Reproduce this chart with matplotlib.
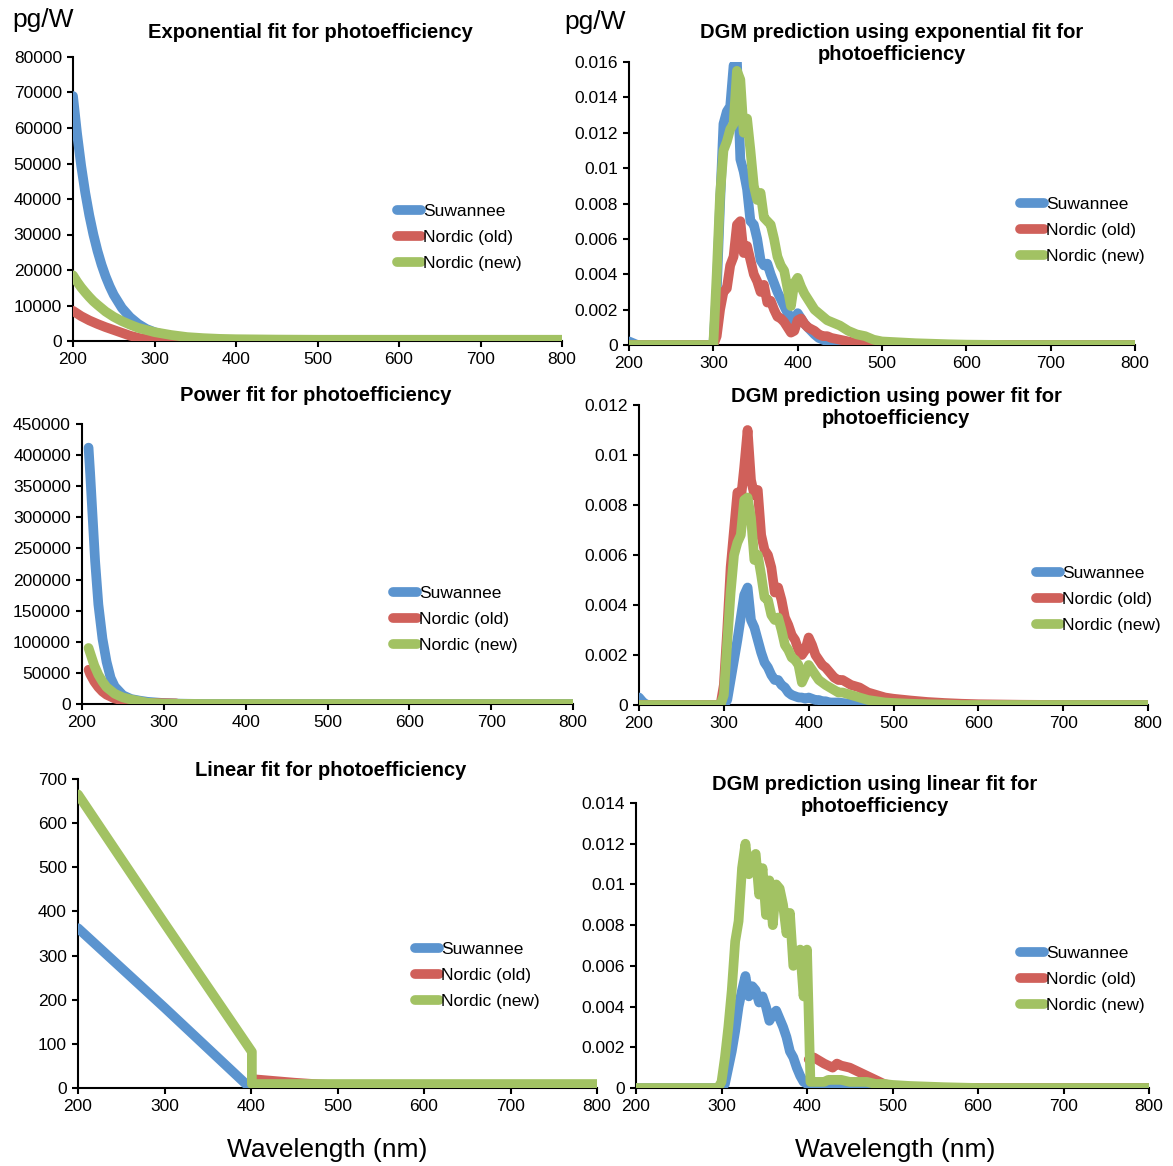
import matplotlib.pyplot as plt
from matplotlib.ticker import FuncFormatter

plt.rcParams['font.family'] = ['Liberation Sans', 'DejaVu Sans']

W, H = 1173, 1166
names = ['Suwannee', 'Nordic (old)', 'Nordic (new)']
colors = ['#5b94cf', '#d0605a', '#a2c263']
wl_ticks = [200, 300, 400, 500, 600, 700, 800]

# --- exponential fit (pg/W) ---
wl_exp_suw = [200, 205, 210, 215, 220, 225, 230, 235, 240, 245, 250, 260, 270, 280, 290,
              300, 310, 320, 330, 340, 360, 380, 400, 450, 500, 800]
exp_suw = [69000, 58400, 49400, 41800, 35400, 30000, 25400, 21500, 18200, 15400, 13000,
           9300, 6700, 4800, 3400, 2500, 1800, 1300, 900, 650, 400, 300, 250, 200, 200, 200]
wl_exp_old = [200, 210, 220, 230, 240, 250, 260, 270, 280, 290, 300, 320, 350, 800]
exp_old = [8500, 7000, 5800, 4800, 3900, 3100, 2300, 1500, 900, 500, 250, 80, 0, 0]
wl_exp_new = [200, 205, 210, 215, 220, 225, 230, 240, 250, 260, 270, 280, 290, 300,
              320, 340, 360, 380, 400, 450, 500, 800]
exp_new = [18500, 16700, 15100, 13700, 12400, 11200, 10200, 8300, 6800, 5600, 4600, 3700,
           3100, 2500, 1700, 1100, 800, 600, 500, 400, 350, 350]

# --- power fit (pg/W) ---
wl_pow_suw = [208, 210, 213, 216, 220, 225, 230, 235, 240, 250, 260, 270, 280, 300, 320, 350, 800]
pow_suw = [412000, 370000, 300000, 230000, 160000, 105000, 68000, 42000, 28000, 14000,
           8000, 5500, 3500, 1500, 500, 0, 0]
wl_pow_old = [208, 210, 215, 220, 225, 230, 240, 250, 260, 280, 300, 315]
pow_old = [55000, 48000, 36000, 27000, 20000, 15000, 8800, 5500, 3600, 1800, 1300, 1000]
wl_pow_new = [208, 210, 215, 220, 225, 230, 240, 250, 260, 280, 300, 350, 800]
pow_new = [90000, 82000, 62000, 47000, 36000, 27000, 16500, 10500, 7200, 2000, 500, 0, 0]

# --- linear fit (pg/W) ---
wl_lin_suw = [200, 300, 399, 800]
lin_suw = [362, 182, 0, 0]
wl_lin_old = [402, 420, 450, 480, 500, 530, 560, 600, 800]
lin_old = [20, 17, 12, 8, 6, 3, 1, 0, 0]
wl_lin_new = [200, 300, 401, 401, 800]
lin_new = [665, 373, 82, 9, 9]

# --- DGM predictions, common wavelength grid (nm) ---
wl_dgm = [200, 205, 210, 250, 296,
          300, 304, 308, 312, 316, 320, 324, 328, 332, 336, 340, 344, 348, 352, 356, 360,
          364, 368, 372, 376, 380, 384, 388, 392, 396, 400, 404, 408, 412, 416, 420,
          425, 430, 435, 440, 450, 460, 470, 480, 490, 500,
          520, 540, 560, 580, 600, 650, 700, 800]

dgm_exp_suw = [0.0002, 0.0001, 0, 0, 0,
               0, 0.003, 0.008, 0.0125, 0.0132, 0.0135, 0.0158, 0.016, 0.0105, 0.0098, 0.0088,
               0.007, 0.0068, 0.006, 0.0048, 0.0045, 0.0046, 0.004, 0.0035, 0.003, 0.0026,
               0.0022, 0.0018, 0.0016, 0.0013, 0.0018, 0.0015, 0.0012, 0.001, 0.0008, 0.0006,
               0.0004, 0.0003, 0.0002, 0.0001, 0, 0, 0, 0, 0, 0,
               0, 0, 0, 0, 0, 0, 0, 0]
dgm_exp_old = [0, 0, 0, 0, 0,
               0, 0.0005, 0.002, 0.003, 0.0032, 0.0045, 0.005, 0.0068, 0.007, 0.0052, 0.0056,
               0.0048, 0.004, 0.0036, 0.003, 0.0034, 0.0024, 0.0025, 0.002, 0.0016, 0.0015,
               0.0013, 0.001, 0.0007, 0.0008, 0.0014, 0.0015, 0.0012, 0.001, 0.0009, 0.0008,
               0.0006, 0.0005, 0.0005, 0.0004, 0.0003, 0.0002, 0.0001, 0.00005, 0, 0,
               0, 0, 0, 0, 0, 0, 0, 0]
dgm_exp_new = [0, 0, 0, 0, 0,
               0, 0.004, 0.0085, 0.011, 0.0115, 0.0122, 0.0125, 0.0155, 0.015, 0.012, 0.0128,
               0.011, 0.009, 0.0082, 0.0086, 0.0072, 0.007, 0.0068, 0.006, 0.005, 0.0045,
               0.0042, 0.0032, 0.0022, 0.0035, 0.0038, 0.0033, 0.0029, 0.0026, 0.0023, 0.002,
               0.0018, 0.0016, 0.0014, 0.0013, 0.0011, 0.0008, 0.0006, 0.0005, 0.0003, 0.0002,
               0.00015, 0.0001, 0.00007, 0.00004, 0.00002, 0, 0, 0]

dgm_pow_suw = [0.0003, 0.0001, 0, 0, 0,
               0, 0.0002, 0.001, 0.0018, 0.0026, 0.0035, 0.0044, 0.0047, 0.0034, 0.0031, 0.0026,
               0.0021, 0.0017, 0.0015, 0.0012, 0.001, 0.001, 0.0008, 0.0007, 0.0005, 0.0004,
               0.00035, 0.0003, 0.0003, 0.00025, 0.0003, 0.00025, 0.0002, 0.0002, 0.00015, 0.00015,
               0.0001, 0.0001, 0.0001, 0.00008, 0.00005, 0.00003, 0, 0, 0, 0,
               0, 0, 0, 0, 0, 0, 0, 0]
dgm_pow_old = [0, 0, 0, 0, 0,
               0.0008, 0.003, 0.0055, 0.007, 0.0085, 0.0082, 0.0095, 0.011, 0.009, 0.0084, 0.0086,
               0.0068, 0.0062, 0.006, 0.0055, 0.0045, 0.0047, 0.0042, 0.0035, 0.0032, 0.0028,
               0.0026, 0.0022, 0.002, 0.0022, 0.0027, 0.0024, 0.002, 0.0018, 0.0016, 0.0015,
               0.0013, 0.0011, 0.001, 0.001, 0.0008, 0.0007, 0.0005, 0.0004, 0.0003, 0.00025,
               0.00018, 0.00012, 0.00008, 0.00005, 0.00003, 0.00001, 0, 0]
dgm_pow_new = [0, 0, 0, 0, 0,
               0.0004, 0.0025, 0.0045, 0.006, 0.0065, 0.0068, 0.0082, 0.0083, 0.0075, 0.0058, 0.006,
               0.0052, 0.0043, 0.0042, 0.0036, 0.0034, 0.0035, 0.003, 0.0024, 0.0022, 0.0019,
               0.0018, 0.0016, 0.0009, 0.0012, 0.0016, 0.0014, 0.0012, 0.001, 0.0009, 0.0008,
               0.0007, 0.0006, 0.0005, 0.0005, 0.0004, 0.0003, 0.0002, 0.00015, 0.0001, 0.00008,
               0.00005, 0.00003, 0.00002, 0, 0, 0, 0, 0]

dgm_lin_suw = [0, 0, 0, 0, 0,
               0, 0.0002, 0.001, 0.0018, 0.0028, 0.004, 0.0048, 0.0055, 0.0045, 0.005, 0.0048,
               0.0042, 0.0045, 0.004, 0.0033, 0.0036, 0.0038, 0.0034, 0.003, 0.0025, 0.0018,
               0.0015, 0.001, 0.0006, 0.0003, 0.0002, 0.0001, 0.0001, 0.00005, 0.00005, 0.00005,
               0.00005, 0.00005, 0.00005, 0.00005, 0, 0, 0, 0, 0, 0,
               0, 0, 0, 0, 0, 0, 0, 0]
# Nordic (old) only has values from 400 nm in the linear case
wl_dgm_lin_old = [402, 404, 408, 412, 416, 420, 425, 430, 435, 440, 450, 460, 470, 480,
                  490, 500, 520, 540, 560, 600, 800]
dgm_lin_old = [0.0014, 0.0014, 0.0015, 0.0014, 0.0013, 0.0012, 0.0011, 0.001, 0.0012, 0.0011,
               0.001, 0.0008, 0.0006, 0.0004, 0.0002, 0.0001, 0.00005, 0, 0, 0, 0]
dgm_lin_new = [0, 0, 0, 0, 0,
               0.0003, 0.0015, 0.003, 0.0048, 0.0072, 0.0082, 0.0108, 0.012, 0.0105, 0.0112, 0.0115,
               0.0095, 0.0108, 0.0085, 0.0102, 0.008, 0.01, 0.0098, 0.009, 0.0076, 0.0086,
               0.006, 0.0062, 0.0068, 0.0045, 0.0068, 0.0003, 0.0003, 0.0003, 0.0003, 0.0003,
               0.0004, 0.0004, 0.0004, 0.0004, 0.0003, 0.0003, 0.0003, 0.0002, 0.0002, 0.00015,
               0.0001, 0.00007, 0.00004, 0.00002, 0, 0, 0, 0]

fig = plt.figure(figsize=(W / 100, H / 100), dpi=100)


def panel(left, right, top, bottom, ymax, ystep, series, title, tpos, legpos):
    ax = fig.add_axes([left / W, 1 - bottom / H, (right - left) / W, (bottom - top) / H])
    for (x, y), c, n in zip(series, colors, names):
        ax.plot(x, y, color=c, lw=7, label=n, zorder=3,
                solid_joinstyle='round', solid_capstyle='round')
    ax.set_xlim(200, 800)
    ax.set_ylim(0, ymax)
    ax.set_xticks(wl_ticks)
    nt = int(round(ymax / ystep))
    ax.set_yticks([i * ystep for i in range(nt + 1)])
    ax.yaxis.set_major_formatter(FuncFormatter(lambda v, p: '%g' % round(v, 6)))
    for s in ['top', 'right']:
        ax.spines[s].set_visible(False)
    for s in ['left', 'bottom']:
        ax.spines[s].set_linewidth(1.5)
        ax.spines[s].set_color('black')
    ax.tick_params(direction='out', length=4, width=1.5, labelsize=12.5, pad=4)
    ax.patch.set_alpha(0)
    fig.text(tpos[0] / W, 1 - tpos[1] / H, title, ha='center', va='center',
             fontsize=14.5, fontweight='bold', linespacing=1.2)
    ax.legend(loc='upper left', bbox_to_anchor=(legpos[0] / W, 1 - legpos[1] / H),
              bbox_transform=fig.transFigure, frameon=False, fontsize=12.5,
              handlelength=1.4, handletextpad=0.1, labelspacing=0.61,
              borderpad=0, borderaxespad=0)
    return ax


panel(73, 562, 57, 341, 80000, 10000,
      [(wl_exp_suw, exp_suw), (wl_exp_old, exp_old), (wl_exp_new, exp_new)],
      'Exponential fit for photoefficiency', (310, 32), (397, 204))
panel(629, 1135, 62, 345, 0.016, 0.002,
      [(wl_dgm, dgm_exp_suw), (wl_dgm, dgm_exp_old), (wl_dgm, dgm_exp_new)],
      'DGM prediction using exponential fit for\nphotoefficiency', (892, 43), (1020, 197))
panel(82, 573, 424, 704, 450000, 50000,
      [(wl_pow_suw, pow_suw), (wl_pow_old, pow_old), (wl_pow_new, pow_new)],
      'Power fit for photoefficiency', (316, 396), (393, 586))
panel(639, 1148, 405, 705, 0.012, 0.002,
      [(wl_dgm, dgm_pow_suw), (wl_dgm, dgm_pow_old), (wl_dgm, dgm_pow_new)],
      'DGM prediction using power fit for\nphotoefficiency', (896, 407), (1036, 566))
panel(78, 597, 779, 1088, 700, 100,
      [(wl_lin_suw, lin_suw), (wl_lin_old, lin_old), (wl_lin_new, lin_new)],
      'Linear fit for photoefficiency', (331, 770), (415, 942))
panel(636, 1149, 803, 1088, 0.014, 0.002,
      [(wl_dgm, dgm_lin_suw), (wl_dgm_lin_old, dgm_lin_old), (wl_dgm, dgm_lin_new)],
      'DGM prediction using linear fit for\nphotoefficiency', (875, 795), (1020, 946))

fig.text(12 / W, 1 - 20 / H, 'pg/W', fontsize=19, ha='left', va='center')
fig.text(564 / W, 1 - 22 / H, 'pg/W', fontsize=19, ha='left', va='center')
fig.text(327 / W, 1 - 1150 / H, 'Wavelength (nm)', fontsize=19, ha='center', va='center')
fig.text(895 / W, 1 - 1150 / H, 'Wavelength (nm)', fontsize=19, ha='center', va='center')

fig.savefig('out.png', dpi=100)
